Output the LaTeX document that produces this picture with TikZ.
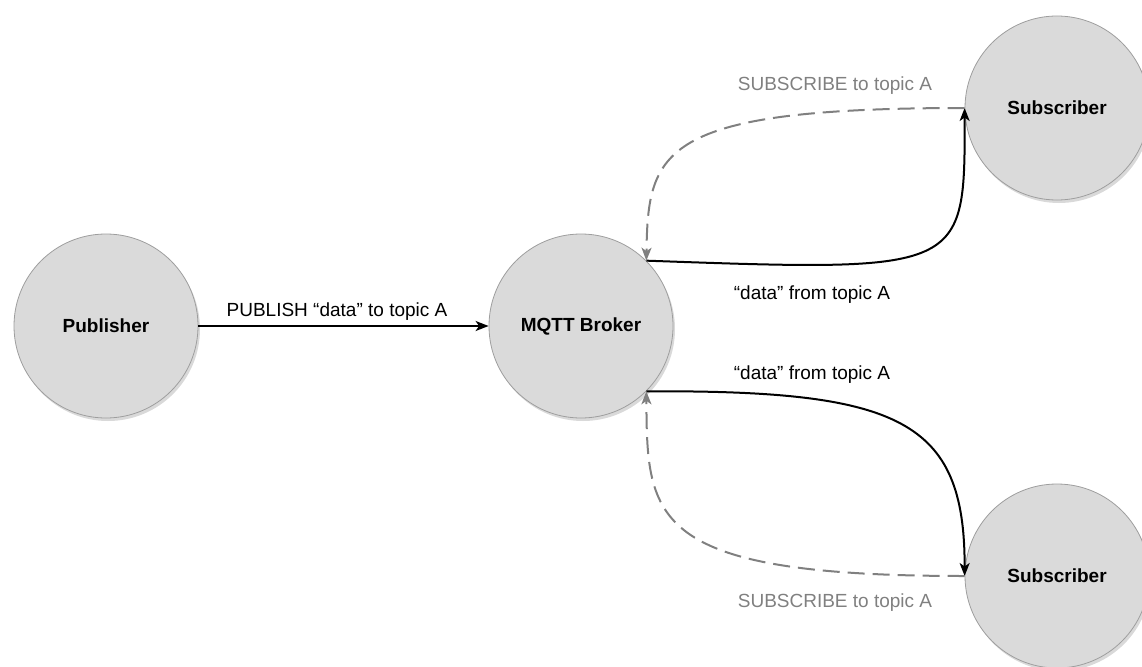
\documentclass[tikz,border=0pt]{standalone}
\usepackage{fontspec}
\setmainfont{Liberation Sans}
\usetikzlibrary{arrows.meta,shadows}
\definecolor{nodefill}{HTML}{DADADA}
\definecolor{nodeline}{HTML}{9E9E9E}
\definecolor{subgray}{HTML}{808080}
\begin{document}
\begin{tikzpicture}[x=1pt,y=-1pt,
  entity/.style={circle, minimum size=184pt, inner sep=0pt, fill=nodefill, draw=nodeline, line width=0.8pt,
    font=\fontsize{19}{23}\selectfont\bfseries,
    drop shadow={shadow xshift=2pt, shadow yshift=-3pt, opacity=0.3}},
  msg/.style={line width=2pt, -{Stealth[length=13pt,width=10pt,inset=3.5pt]}},
  subline/.style={line width=2pt, subgray, dash pattern=on 17pt off 8pt, -{Stealth[length=13pt,width=10pt,inset=3.5pt]}},
  lbl/.style={font=\fontsize{19}{23}\selectfont, anchor=base, inner sep=0pt},
]
\useasboundingbox (0,0) rectangle (1142,666);
\clip (0,0) rectangle (1142,666);

\node[entity] (pub) at (106,326) {Publisher};
\node[entity] (broker) at (581,326) {MQTT Broker};
\node[entity] (subA) at (1057,108) {Subscriber};
\node[entity] (subB) at (1057,576) {Subscriber};

\draw[msg] (pub.east) -- (broker.west);
\draw[msg] (broker.45) .. controls (965,272) and (965,272) .. (subA.west);
\draw[subline] (subA.west) .. controls (660,108) and (648,150) .. (broker.45);
\draw[msg] (broker.-45) .. controls (900,390) and (965,420) .. (subB.west);
\draw[subline] (subB.west) .. controls (650,576) and (647,520) .. (broker.-45);

\node[lbl] (lpub) at (337,316) {PUBLISH “data” to topic A};
\node[lbl, text=subgray] (lsubA) at (835,91) {SUBSCRIBE to topic A};
\node[lbl] (ldataA) at (812,299) {“data” from topic A};
\node[lbl] (ldataB) at (812,379) {“data” from topic A};
\node[lbl, text=subgray] (lsubB) at (835,607) {SUBSCRIBE to topic A};
\end{tikzpicture}
\end{document}
